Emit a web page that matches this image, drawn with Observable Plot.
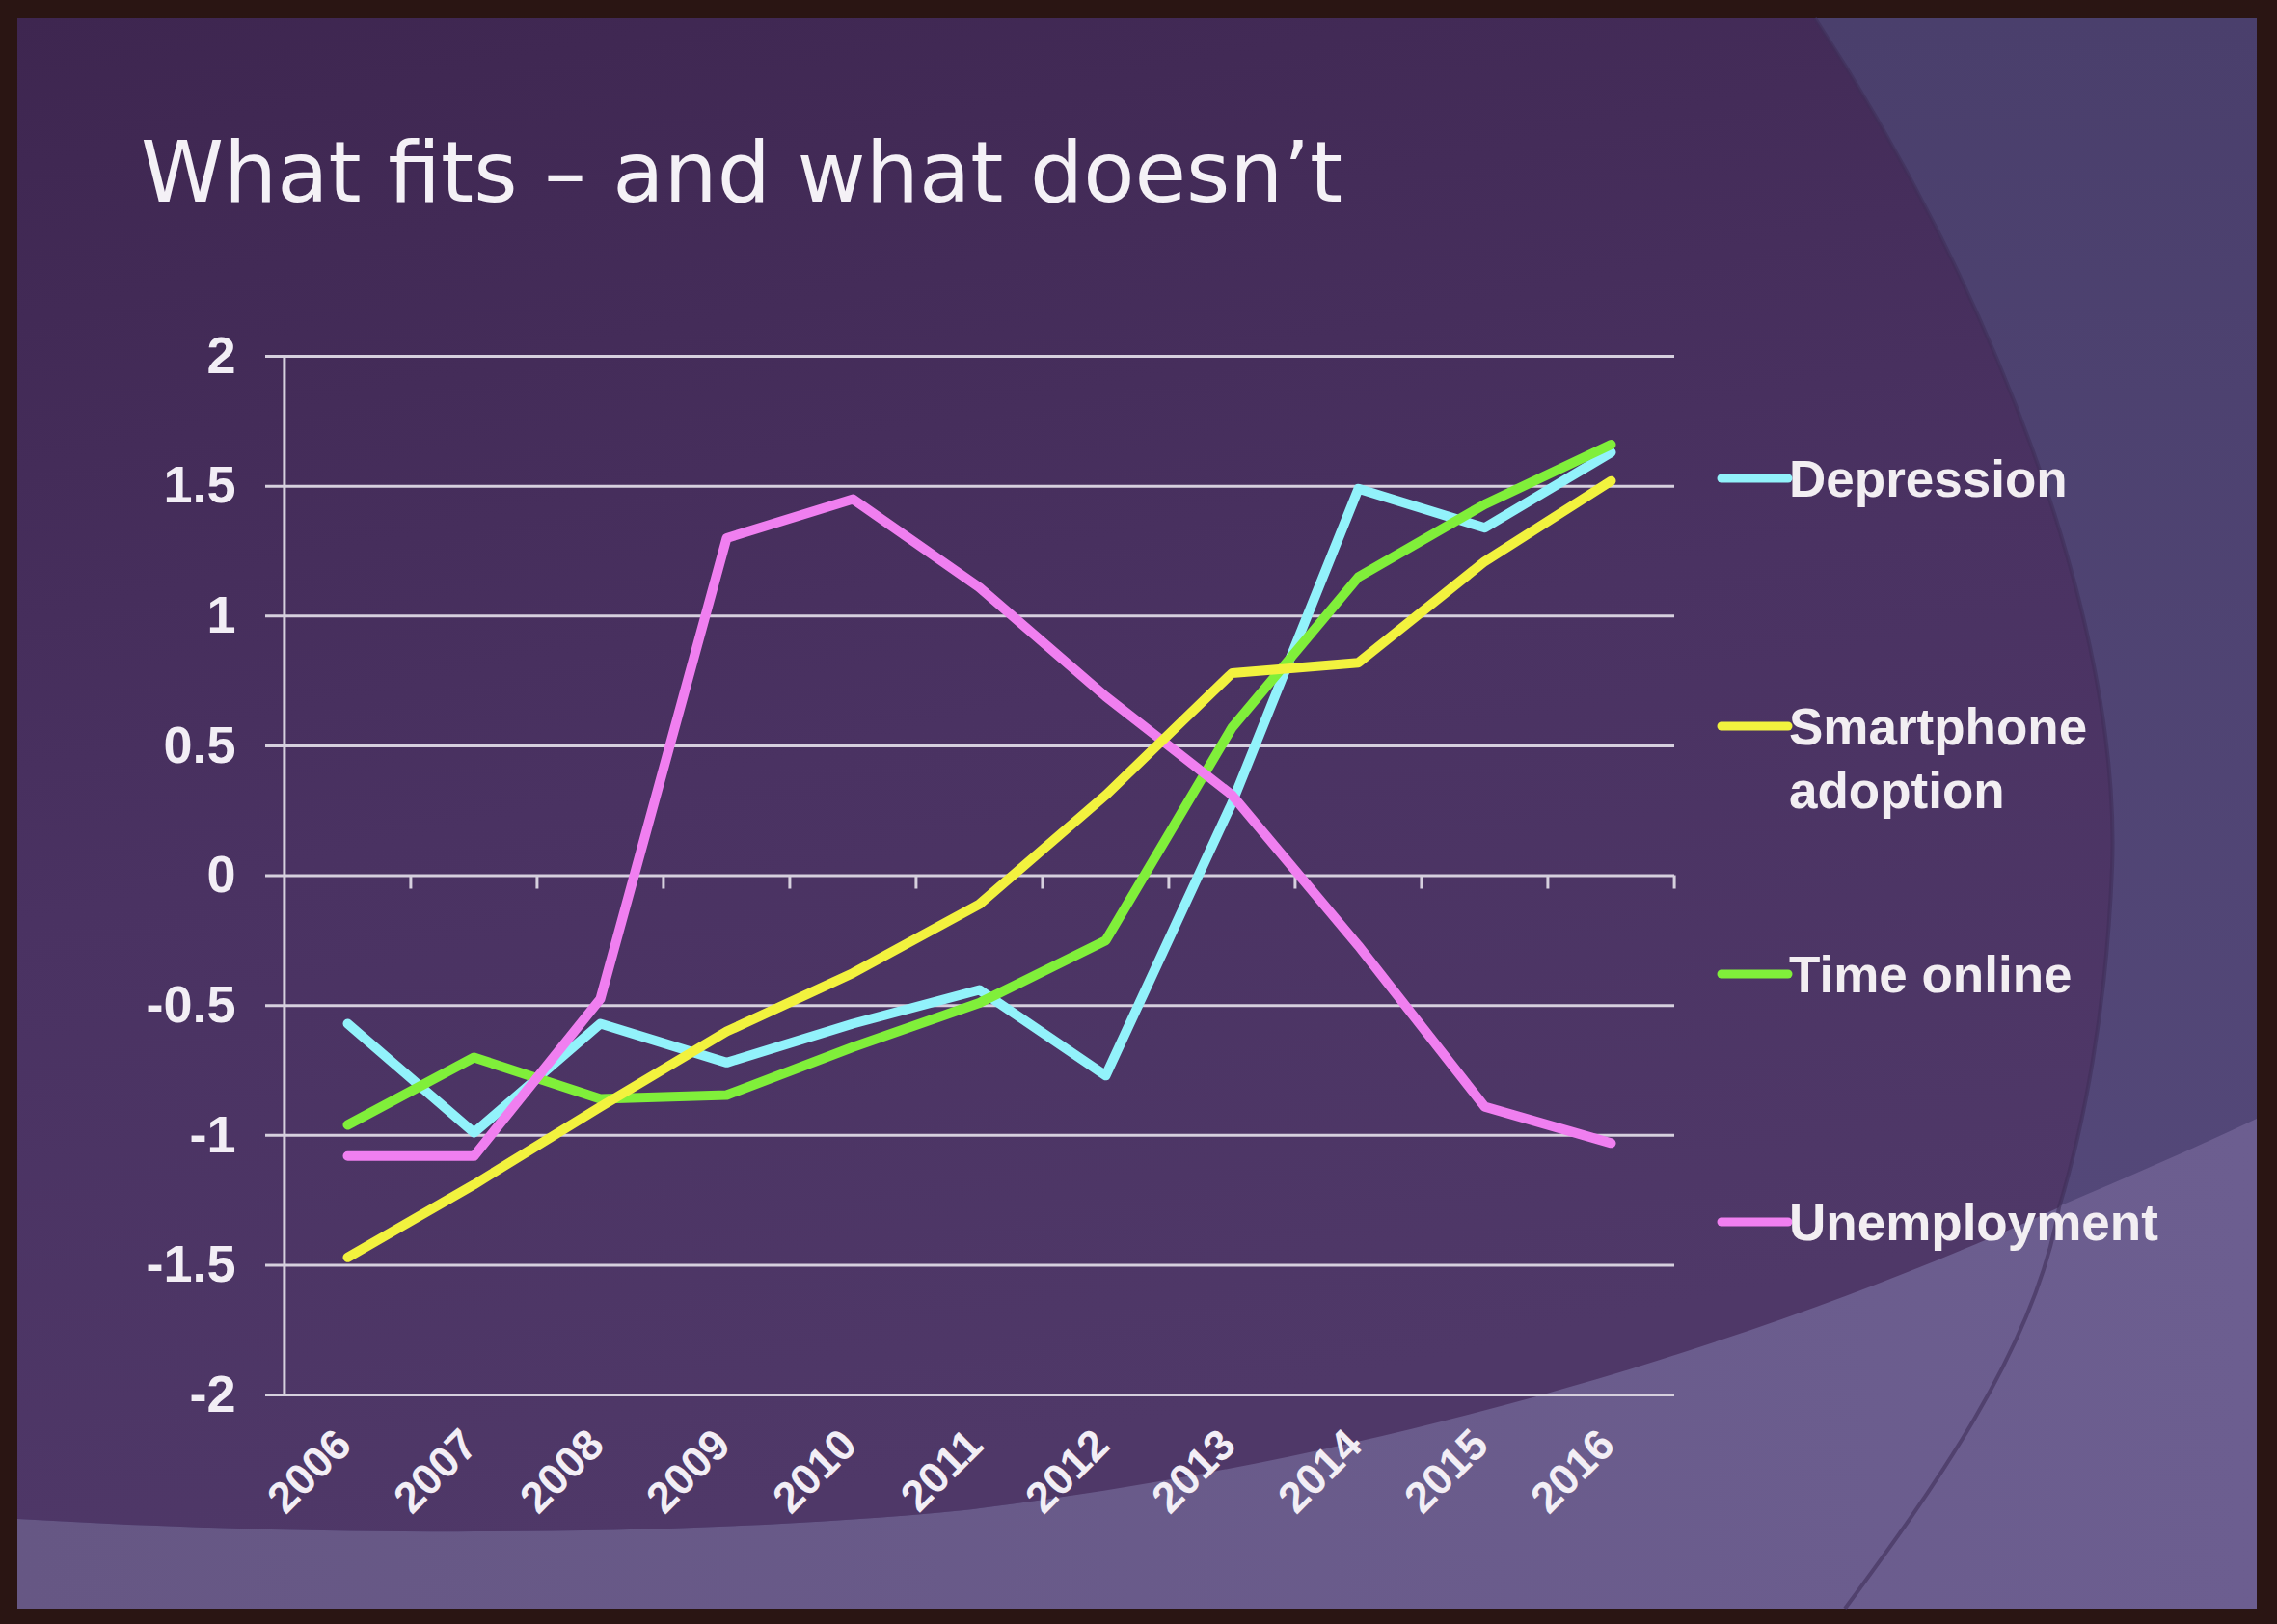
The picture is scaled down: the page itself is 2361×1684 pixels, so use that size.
<!DOCTYPE html>
<html>
<head>
<meta charset="utf-8">
<script src="https://cdn.jsdelivr.net/npm/d3@7"></script>
<script src="https://cdn.jsdelivr.net/npm/@observablehq/plot@0.6"></script>
<style>
  html, body { margin: 0; padding: 0; background: #2a1513; }
  #page { position: relative; width: 2361px; height: 1684px; overflow: hidden; background: #2a1513; }
  #bg, #chart, #legend { position: absolute; left: 0; top: 0; }
  #chart svg { max-width: none; }
  #title {
    position: absolute; left: 146px; top: 136px; margin: 0;
    font-family: "DejaVu Sans", Verdana, sans-serif; font-weight: normal;
    font-size: 87px; line-height: 1; color: #f4f1f6; white-space: nowrap;
  }
</style>
</head>
<body>
<div id="page">
  <svg id="bg" width="2361" height="1684"></svg>
  <div id="chart"></div>
  <h1 id="title">What fits – and what doesn’t</h1>
  <svg id="legend" width="2361" height="1684"></svg>
</div>
<script>
// ---- data ----
const years = ["2006","2007","2008","2009","2010","2011","2012","2013","2014","2015","2016"];
const seriesNames = ["Depression", "Smartphone adoption", "Time online", "Unemployment"];
const seriesColors = ["#92f2fb", "#f2f23e", "#80ef3a", "#f07ff0"];
const depression   = [-0.57, -0.99, -0.57, -0.72, -0.57, -0.44, -0.77, 0.28, 1.49, 1.34, 1.63];
const smartphone   = [-1.47, -1.19, -0.89, -0.60, -0.375, -0.11, 0.31, 0.78, 0.82, 1.21, 1.52];
const timeOnline   = [-0.96, -0.70, -0.86, -0.845, -0.66, -0.49, -0.25, 0.57, 1.15, 1.43, 1.66];
const unemployment = [-1.08, -1.08, -0.475, 1.30, 1.45, 1.11, 0.69, 0.31, -0.27, -0.89, -1.03];
const yTicks = [-2, -1.5, -1, -0.5, 0, 0.5, 1, 1.5, 2];
const yTickLabels = ["-2", "-1.5", "-1", "-0.5", "0", "0.5", "1", "1.5", "2"];
const legendLabels = [["Depression"], ["Smartphone", "adoption"], ["Time online"], ["Unemployment"]];

// draw order (later on top)
const seriesValues = {
  "Depression": depression,
  "Time online": timeOnline,
  "Unemployment": unemployment,
  "Smartphone adoption": smartphone
};
const rows = [];
for (const [name, vals] of Object.entries(seriesValues)) {
  vals.forEach((v, i) => rows.push({year: years[i], value: v, series: name}));
}

// ---- background (slide) ----
const bg = d3.select("#bg");
const defs = bg.append("defs");
const g1 = defs.append("linearGradient").attr("id", "gMain").attr("x1", 0).attr("y1", 0).attr("x2", 0.3).attr("y2", 1);
g1.append("stop").attr("offset", "0%").attr("stop-color", "#3e2650");
g1.append("stop").attr("offset", "55%").attr("stop-color", "#4a3262");
g1.append("stop").attr("offset", "100%").attr("stop-color", "#4f3868");
const g2 = defs.append("linearGradient").attr("id", "gRight").attr("x1", 0).attr("y1", 0).attr("x2", 0).attr("y2", 1);
g2.append("stop").attr("offset", "0%").attr("stop-color", "#4a3f6c");
g2.append("stop").attr("offset", "100%").attr("stop-color", "#564a7c");
const g3 = defs.append("linearGradient").attr("id", "gBottom").attr("x1", 0).attr("y1", 0).attr("x2", 1).attr("y2", 0);
g3.append("stop").attr("offset", "0%").attr("stop-color", "#665784");
g3.append("stop").attr("offset", "100%").attr("stop-color", "#6c5e90");
bg.append("rect").attr("x", 18).attr("y", 19).attr("width", 2322).attr("height", 1649).attr("fill", "url(#gBottom)");
const bottomCurve = "C2000,1320 1500,1505 1000,1566 C700,1596 300,1592 18,1575";
bg.append("path").attr("d", "M18,19 H2340 V1160 " + bottomCurve + " Z").attr("fill", "url(#gRight)");
bg.append("path").attr("d", "M18,19 H1882 C2060,290 2200,640 2190,900 C2184,1050 2160,1170 2135,1252 C1900,1360 1500,1505 1000,1566 C700,1596 300,1592 18,1575 Z")
  .attr("fill", "url(#gMain)");
bg.append("path").attr("d", "M1882,19 C2060,290 2200,640 2190,900 C2184,1050 2160,1170 2135,1252 C2110,1400 2000,1550 1913,1668")
  .attr("fill", "none").attr("stroke", "#3f2f58").attr("stroke-width", 4).attr("opacity", 0.6);

// ---- chart ----
const W = 2361, H = 1684;
const ml = 293, mr = W - 1736, mt = 369, mb = H - 1446;
const step = (W - ml - mr) / years.length;
const gridColor = "#d6d0de";

const chart = Plot.plot({
  width: W, height: H,
  marginLeft: ml, marginRight: mr, marginTop: mt, marginBottom: mb,
  style: {background: "transparent", color: "#f2eef5", fontFamily: "'Liberation Sans', Arial, sans-serif", overflow: "visible"},
  x: {type: "point", domain: years, padding: 0.5, axis: null},
  y: {domain: [-2, 2], axis: null},
  color: {domain: seriesNames, range: seriesColors},
  marks: [
    Plot.ruleY(yTicks, {stroke: gridColor, strokeWidth: 3, insetLeft: -18}),
    Plot.ruleX([years[0]], {dx: -step / 2, stroke: gridColor, strokeWidth: 3}),
    Plot.ruleX(years.slice(1), {y1: 0, y2: 0, insetBottom: -14, dx: -step / 2, stroke: gridColor, strokeWidth: 3}),
    Plot.ruleX([years[years.length - 1]], {y1: 0, y2: 0, insetBottom: -14, dx: step / 2, stroke: gridColor, strokeWidth: 3}),
    Plot.axisY({ticks: yTicks, tickFormat: d => yTickLabels[yTicks.indexOf(d)], tickSize: 0, tickPadding: 49,
      fontSize: 54, fontWeight: "bold", label: null}),
    Plot.axisX({tickRotate: -45, tickSize: 0, tickPadding: 44, dx: -4, fontSize: 45, fontWeight: "bold", label: null}),
    Plot.line(rows, {x: "year", y: "value", z: "series", stroke: "series", strokeWidth: 10,
      strokeLinejoin: "round", strokeLinecap: "round"})
  ]
});
document.getElementById("chart").appendChild(chart);

// ---- legend ----
const lg = d3.select("#legend");
const legX0 = 1781, legX1 = 1854, legTextX = 1855, legY0 = 496, legDy = 257, lineH = 66;
seriesNames.forEach((name, i) => {
  const cy = legY0 + i * legDy;
  lg.append("line").attr("x1", legX0 + 4).attr("x2", legX1).attr("y1", cy).attr("y2", cy)
    .attr("stroke", seriesColors[i]).attr("stroke-width", 9).attr("stroke-linecap", "round");
  const t = lg.append("text").attr("x", legTextX).attr("y", cy + 19)
    .attr("fill", "#f2eef2").attr("font-family", "'Liberation Sans', Arial, sans-serif")
    .attr("font-weight", "bold").attr("font-size", 53);
  legendLabels[i].forEach((ln, j) => {
    t.append("tspan").attr("x", legTextX).attr("dy", j === 0 ? 0 : lineH).text(ln);
  });
});
</script>
</body>
</html>
